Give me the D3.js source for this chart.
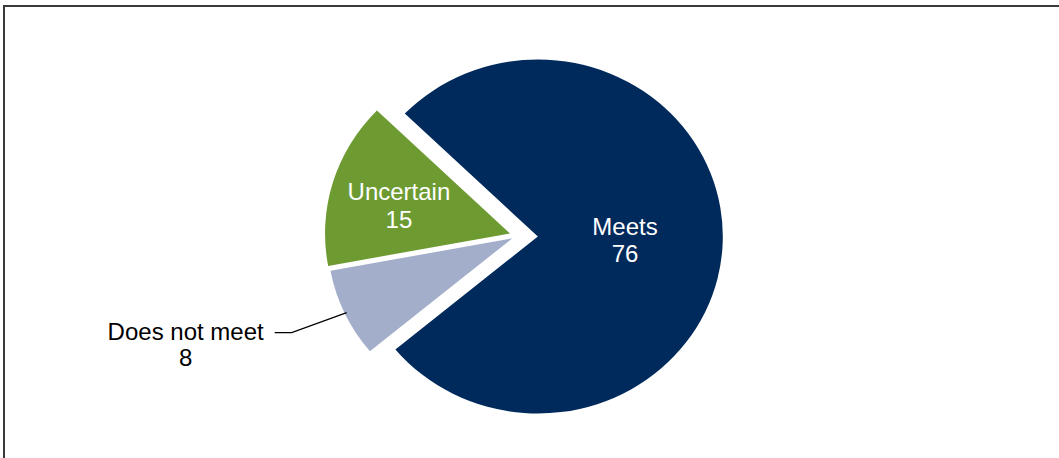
<!DOCTYPE html>
<html>
<head>
<meta charset="utf-8">
<script src="https://cdn.jsdelivr.net/npm/d3@7"></script>
<style>
  html, body { margin: 0; padding: 0; background: #ffffff; }
  svg { display: block; }
  text { font-family: "Liberation Sans", Arial, sans-serif; }
</style>
</head>
<body>
<svg id="chart" width="1059" height="458"></svg>
<script>
// Compliance breakdown
const categories = ["Meets", "Does not meet", "Uncertain"];
const values = [76, 8, 15];
const colors = ["#012a5c", "#a3aeca", "#6d9b32"];

// Per-slice explosion distance and label placement (style, not data)
const explode = [19, 6, 8];
const labelRadius = [102.5, null, 119];   // null -> label sits outside with a leader
const labelNudge = [0, 0, 3.5];

const width = 1059, height = 458;
const svg = d3.select("#chart");

// Frame (top and left edges of the chart box)
svg.append("path")
  .attr("d", d3.line()([[4, height], [4, 6], [width, 6]]))
  .attr("fill", "none")
  .attr("stroke", "#3a3a3a")
  .attr("stroke-width", 2);

const r = 177;
const sx = 1.045;               // slight horizontal stretch of the pie
const cx = 518, cy = 235.8;
const startDeg = -46;

const pie = d3.pie()
  .sort(null)
  .value(d => d.value)
  .startAngle(startDeg * Math.PI / 180)
  .endAngle(startDeg * Math.PI / 180 + 2 * Math.PI);

const data = categories.map((c, i) => ({
  name: c, value: values[i], color: colors[i],
  explode: explode[i], labelR: labelRadius[i], nudge: labelNudge[i]
}));
const arcs = pie(data);

const arc = d3.arc().innerRadius(0).outerRadius(r);

const dir = a => {
  const m = (a.startAngle + a.endAngle) / 2;
  return [Math.sin(m), -Math.cos(m)];
};
// group coords -> screen coords
const toScreen = (x, y) => [cx + sx * x, cy + y];

const pieG = svg.append("g")
  .attr("transform", `translate(${cx},${cy}) scale(${sx},1)`);

pieG.selectAll("path.slice")
  .data(arcs)
  .join("path")
  .attr("class", "slice")
  .attr("d", arc)
  .attr("fill", d => d.data.color)
  .attr("transform", d => {
    const [ux, uy] = dir(d);
    return `translate(${ux * d.data.explode},${uy * d.data.explode})`;
  });

const fontSize = 24;
const lineGap = 27.5;

// Labels inside slices
arcs.filter(d => d.data.labelR !== null).forEach(d => {
  const [ux, uy] = dir(d);
  const [x, y0] = toScreen(ux * d.data.labelR, uy * d.data.labelR);
  const y = y0 + d.data.nudge;
  const t = svg.append("text")
    .attr("text-anchor", "middle")
    .attr("font-size", fontSize)
    .attr("fill", "#ffffff");
  t.append("tspan").attr("x", x).attr("y", y - 4.9).text(d.data.name);
  t.append("tspan").attr("x", x).attr("y", y - 4.9 + lineGap).text(d.data.value);
});

// Outside label with leader line
arcs.filter(d => d.data.labelR === null).forEach(d => {
  const [ux, uy] = dir(d);
  const rr = r + d.data.explode - 2;
  const start = toScreen(ux * rr, uy * rr);
  const elbow = [start[0] - 55, start[1] + 20];
  const end = [elbow[0] - 17, elbow[1]];
  svg.append("path")
    .attr("d", d3.line()([start, elbow, end]))
    .attr("fill", "none")
    .attr("stroke", "#000000")
    .attr("stroke-width", 1.3);

  const t = svg.append("text")
    .attr("text-anchor", "middle")
    .attr("font-size", fontSize)
    .attr("fill", "#000000");
  const l1 = t.append("tspan").attr("y", end[1] + 7).text(d.data.name);
  const l2 = t.append("tspan").attr("y", end[1] + 7 + 26.5).text(d.data.value);
  const w = l1.node().getComputedTextLength();
  const xc = end[0] - 11 - w / 2;
  l1.attr("x", xc);
  l2.attr("x", xc);
});
</script>
</body>
</html>
